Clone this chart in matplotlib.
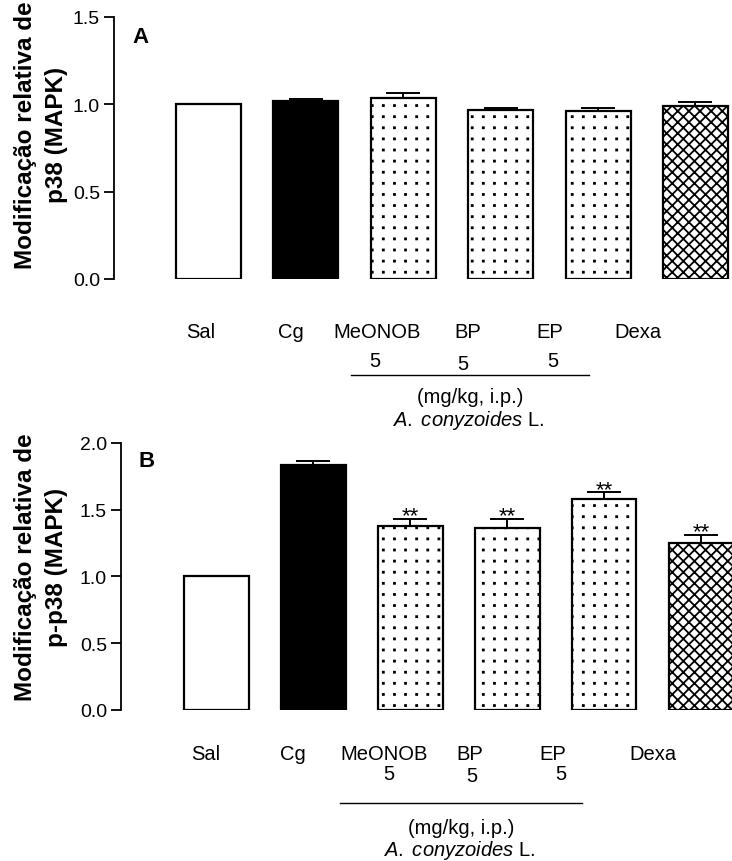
import numpy as np
import matplotlib
matplotlib.use("Agg")
import matplotlib.pyplot as plt
from matplotlib import hatch as mhatch

# data
groups = ['Sal', 'Cg', 'MeONOB', 'BP', 'EP', 'Dexa']
dose = ['', '', '5', '5', '5', '']
p38 = [1.00, 1.017, 1.036, 0.969, 0.963, 0.992]
p38_err = [0.0, 0.013, 0.029, 0.011, 0.015, 0.019]
pp38 = [1.00, 1.835, 1.38, 1.363, 1.583, 1.25]
pp38_err = [0.0, 0.030, 0.053, 0.068, 0.050, 0.062]
pp38_sig = ['', '', '**', '**', '**', '**']

fills = ['white', 'black', 'white', 'white', 'white', 'white']
hatches = [None, None, '.', '.', '.', 'xxx']

W, H = 732, 862


class GridDots(mhatch.HatchPatternBase):
    # square grid of small dots (the built-in '.' is staggered)
    def __init__(self, hatch, density):
        self.n = hatch.count('.') * 9
        self.num_vertices = self.n * self.n * 5

    def set_vertices_and_codes(self, vertices, codes):
        step = 1.0 / self.n
        sq = (np.array([[0, 0], [1, 0], [1, 1], [0, 1], [0, 0]]) - 0.5) * step * 0.09
        parts = []
        for i in range(self.n):
            for j in range(self.n):
                parts.append(sq + [(j + 0.5) * step, (i + 0.5) * step])
        vertices[:] = np.concatenate(parts)
        one = [1, 2, 2, 2, 79]
        codes[:] = np.tile(one, self.n * self.n)


mhatch._hatch_types = [GridDots if t is mhatch.SmallFilledCircles else t
                       for t in mhatch._hatch_types]

plt.rcParams['font.family'] = ['Liberation Sans', 'DejaVu Sans']
plt.rcParams['mathtext.fontset'] = 'custom'
plt.rcParams['mathtext.it'] = 'Liberation Sans:italic'
plt.rcParams['mathtext.rm'] = 'Liberation Sans'
plt.rcParams['hatch.linewidth'] = 1.3


def px(x, y):
    return x / W, 1 - y / H


fig = plt.figure(figsize=(W / 100, H / 100), dpi=100)

# panel layouts in pixels: axes box, xlim, label positions
panels = [
    dict(box=(114, 18, 732, 280), xlim=(-0.970, 5.375), ylim=1.5, vals=p38, err=p38_err,
         sig=None, letter='A', letter_xy=(132, 43),
         ylabel='Modificação relativa de\np38 (MAPK)', ylabel_xy=(41, 135),
         lab_x=[201, 291, 377, 468, 550, 638], lab_y=338,
         dose_x=[0, 0, 375, 463, 553, 0], dose_y=[0, 0, 367, 370, 367, 0],
         line=(351, 589, 376), unit_y=403, species_y=426),
    dict(box=(121, 444, 732, 710.7), xlim=(-0.986, 5.32), ylim=2.0, vals=pp38, err=pp38_err,
         sig=pp38_sig, letter='B', letter_xy=(138, 467),
         ylabel='Modificação relativa de\np-p38 (MAPK)', ylabel_xy=(41, 567),
         lab_x=[206, 293, 384, 470, 553, 653], lab_y=760,
         dose_x=[0, 0, 389, 472, 561, 0], dose_y=[0, 0, 780, 782, 780, 0],
         line=(340, 582, 804), unit_y=834, species_y=856),
]

for p in panels:
    x0, y0, x1, y1 = p['box']
    ax = fig.add_axes([x0 / W, 1 - y1 / H, (x1 - x0) / W, (y1 - y0) / H])
    pos = np.arange(len(groups))
    bars = ax.bar(pos, p['vals'], width=0.667, color=fills, edgecolor='black',
                  linewidth=1.6, zorder=1)
    for b, h in zip(bars, hatches):
        if h:
            b.set_hatch(h)
    ax.errorbar(pos, p['vals'], yerr=[np.zeros(len(pos)), p['err']], fmt='none',
                ecolor='black', elinewidth=1.4, capsize=12, capthick=1.4, zorder=2)
    if p['sig']:
        for i, s in enumerate(p['sig']):
            if s:
                ax.annotate(s, (pos[i], p['vals'][i] + p['err'][i]), xytext=(0, -2),
                            textcoords='offset points', ha='center', va='baseline',
                            fontsize=16)
    ax.set_xlim(*p['xlim'])
    ax.set_ylim(0, p['ylim'])
    ax.set_yticks(np.arange(0, p['ylim'] + 0.01, 0.5))
    ax.set_yticklabels(['%.1f' % t for t in np.arange(0, p['ylim'] + 0.01, 0.5)])
    for s in ['top', 'right', 'bottom']:
        ax.spines[s].set_visible(False)
    ax.spines['left'].set_linewidth(1.3)
    ax.tick_params(axis='y', direction='out', length=7, width=1.3, labelsize=14, pad=3)
    ax.set_xticks([])
    ax.patch.set_visible(False)

    fig.text(*px(*p['letter_xy']), p['letter'], fontsize=16, fontweight='bold',
             ha='left', va='baseline')
    fig.text(*px(*p['ylabel_xy']), p['ylabel'], rotation=90, fontsize=17.5,
             fontweight='bold', ha='center', va='center', multialignment='center',
             linespacing=1.42)
    for g, lx in zip(groups, p['lab_x']):
        fig.text(*px(lx, p['lab_y']), g, fontsize=14.5, ha='center', va='baseline')
    for d, dx, dy in zip(dose, p['dose_x'], p['dose_y']):
        if d:
            fig.text(*px(dx, dy), d, fontsize=14.5, ha='center', va='baseline')
    lx0, lx1, ly = p['line']
    fig.add_artist(plt.Line2D([lx0 / W, lx1 / W], [1 - ly / H, 1 - ly / H],
                              color='black', linewidth=1.0))
    mid = (lx0 + lx1) / 2
    fig.text(*px(mid, p['unit_y']), '(mg/kg, i.p.)', fontsize=14.5, ha='center',
             va='baseline')
    fig.text(*px(mid - 2, p['species_y']), r'$\it{A.}$ $\it{conyzoides}$ L.',
             fontsize=14.5, ha='center', va='baseline')

fig.savefig('out.png', dpi=100)
